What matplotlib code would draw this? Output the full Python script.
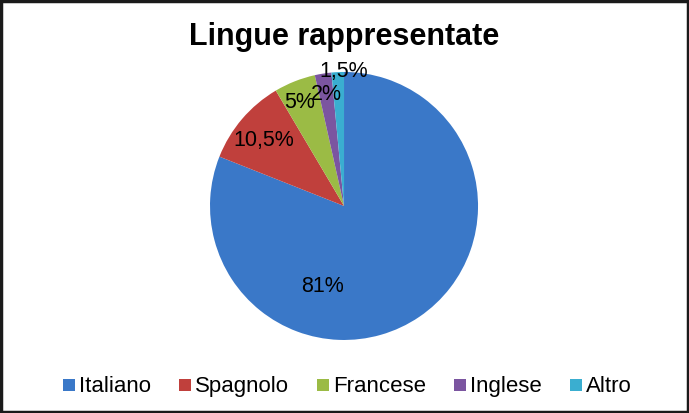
import numpy as np
import matplotlib.pyplot as plt
from matplotlib.patches import Rectangle

# dati
lingue = ["Italiano", "Spagnolo", "Francese", "Inglese", "Altro"]
percentuali = [81, 10.5, 5, 2, 1.5]
etichette = ["81%", "10,5%", "5%", "2%", "1,5%"]
colori = ["#3a78c8", "#c0403c", "#9bbb45", "#7b55a0", "#3aaed0"]

# posizioni delle etichette (come nel grafico Excel, in unità di raggio)
pos_etichette = [(-0.16, -0.60), (-0.60, 0.49), (-0.33, 0.77), (-0.13, 0.83), (0.0, 1.0)]

plt.rcParams['font.family'] = ['Liberation Sans', 'DejaVu Sans']

W, H = 689, 413
fig = plt.figure(figsize=(W / 100, H / 100), dpi=100)
ax = fig.add_axes([0.3048, 0.1768, 0.389, 0.649])

wedges, _ = ax.pie(percentuali, colors=colori, startangle=90, counterclock=False,
                   radius=1, wedgeprops=dict(linewidth=0))
ax.set_xlim(-1, 1)
ax.set_ylim(-1, 1)
ax.set_aspect("equal")

for testo, (x, y) in zip(etichette, pos_etichette):
    ax.text(x, y, testo, ha="center", va="center", fontsize=15.5, color="black")

fig.text(0.5, 1 - 37 / H, "Lingue rappresentate", ha="center", va="center",
         fontsize=22, fontweight="bold")

# legenda costruita a mano, tutte le voci sulla stessa linea di base
renderer = fig.canvas.get_renderer()
quadrato, spazio, sep = 12, 4, 28
testi = []
for nome in lingue:
    t = fig.text(0, 21 / H, nome, ha="left", va="baseline", fontsize=16)
    testi.append(t)
larghezze = [t.get_window_extent(renderer).width for t in testi]
totale = sum(quadrato + spazio + w for w in larghezze) + sep * (len(lingue) - 1)
x = 347 - totale / 2
for t, w, c in zip(testi, larghezze, colori):
    fig.patches.append(Rectangle((x / W, 22 / H), quadrato / W, quadrato / H,
                                 transform=fig.transFigure, facecolor=c, edgecolor="none"))
    t.set_x((x + quadrato + spazio) / W)
    x += quadrato + spazio + w + sep

# bordo esterno
fig.patches.append(Rectangle((0.002, 0.003), 0.996, 0.994, transform=fig.transFigure,
                             fill=False, edgecolor="#1a1a1a", linewidth=2.5))

fig.savefig("out.png", dpi=100)
